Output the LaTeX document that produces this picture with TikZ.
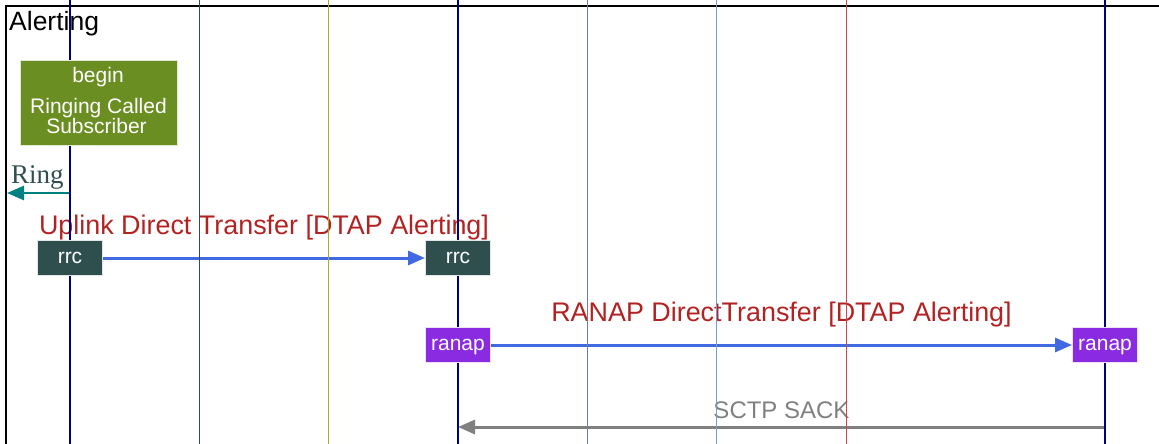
\documentclass[tikz,border=0pt]{standalone}
\usepackage{fontspec}
\setmainfont{Liberation Sans}
\newfontfamily\ringfont{Liberation Serif}
\usetikzlibrary{arrows.meta}
\definecolor{cnavy}{HTML}{000080}
\definecolor{cdslate}{HTML}{2F4F4F}
\definecolor{colive}{RGB}{170,170,40}
\definecolor{cslate}{HTML}{708090}
\definecolor{csteel}{RGB}{110,160,210}
\definecolor{cred}{RGB}{208,70,70}
\definecolor{colivedrab}{HTML}{6B8E23}
\definecolor{cfire}{HTML}{B22222}
\definecolor{croyal}{HTML}{4169E1}
\definecolor{cviolet}{HTML}{8A2BE2}
\definecolor{cteal}{HTML}{008080}
\definecolor{cgrey}{HTML}{808080}
\pgfdeclarelayer{bg}
\pgfdeclarelayer{life}
\pgfsetlayers{bg,life,main}
\tikzset{
  lifeline/.style={line width=#1},
  protobox/.style={fill=#1, draw=#1!15!white, line width=1pt, minimum width=65pt, minimum height=35pt,
    inner sep=0pt, text=white, font=\fontsize{21}{21}\selectfont, text height=11pt, text depth=0pt},
  actbox/.style={fill=colivedrab, draw=colivedrab!20!white, line width=1pt, minimum width=157pt, minimum height=84pt, inner sep=0pt},
  acttext/.style={text=white, font=\fontsize{21}{21}\selectfont, anchor=base, inner sep=0pt},
  msglabel/.style={font=\fontsize{26.9}{26.9}\selectfont, text=#1, anchor=base, inner sep=0pt},
  msg/.style={draw=#1, line width=3pt, -{Triangle[length=17pt,width=14pt]}},
}
\begin{document}
\begin{tikzpicture}[x=1pt,y=-1pt]
\useasboundingbox (0,0) rectangle (1159,444);
% frame and title
\begin{pgfonlayer}{bg}
\draw[line width=2.5pt, black] (6,444) -- (6,6) -- (1159,6);
\node[font=\fontsize{26.5}{26.5}\selectfont, anchor=base west, inner sep=0pt] (title) at (9,31) {Alerting};
\end{pgfonlayer}
% lifelines
\begin{pgfonlayer}{life}
\foreach \x/\c/\w [count=\i] in {70/cnavy/2pt,199/cdslate/1pt,328/colive/1pt,458/cnavy/2pt,587/cslate/1pt,716/csteel/1pt,846/cred/1pt,1105/cnavy/2pt}{
  \coordinate (top\i) at (\x,0);
  \coordinate (bot\i) at (\x,444);
  \draw[draw=\c, lifeline=\w] (top\i) -- (bot\i);
}
\end{pgfonlayer}
% action box
\node[actbox] (act) at (98.5,103) {};
\node[acttext] (actA) at (98,82.7) {begin};
\node[acttext] (actB) at (98.5,113.3) {Ringing Called};
\node[acttext] (actC) at (96.5,133.3) {Subscriber};
% protocol boxes
\node[protobox=cdslate] (rrcA) at (70,258) {rrc};
\node[protobox=cdslate] (rrcB) at (458,258) {rrc};
\node[protobox=cviolet] (ranapA) at (458,345) {ranap};
\node[protobox=cviolet] (ranapB) at (1105,345) {ranap};
% coordinates for free ends
\coordinate (ringS) at (70,193);
\coordinate (ringE) at (7,193);
\coordinate (sackS) at (1105,427);
\coordinate (sackE) at (458,427);
\begin{pgfonlayer}{bg}
\node[font=\ringfont\fontsize{27}{27}\selectfont, text=cdslate, anchor=base west, inner sep=0pt] (ring) at (11,183) {Ring};
\draw[msg=cteal, line width=2.5pt] (ringS) -- (ringE);
\node[msglabel=cfire] (m1) at (264,234) {Uplink Direct Transfer [DTAP Alerting]};
\draw[msg=croyal] (rrcA.east) -- (rrcB.west);
\node[msglabel=cfire] (m2) at (781.5,321) {RANAP DirectTransfer [DTAP Alerting]};
\draw[msg=croyal] (ranapA.east) -- (ranapB.west);
\node[msglabel=cgrey, font=\fontsize{24}{24}\selectfont] (m3) at (781.5,418) {SCTP SACK};
\draw[msg=cgrey] (sackS) -- (sackE);
\end{pgfonlayer}
\end{tikzpicture}
\end{document}
